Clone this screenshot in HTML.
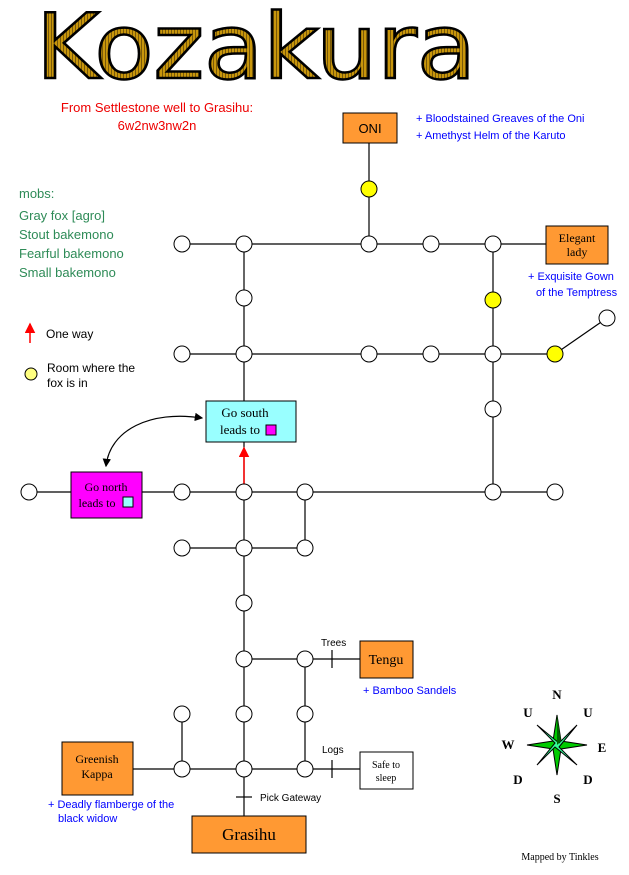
<!DOCTYPE html>
<html><head><style>body{margin:0;background:#fff}svg{display:block}</style></head><body>
<svg width="629" height="875" viewBox="0 0 629 875" xmlns="http://www.w3.org/2000/svg" font-family="Liberation Sans, sans-serif">
<defs><pattern id="st" width="3" height="3" patternUnits="userSpaceOnUse"><rect width="3" height="3" fill="#c8960c"/><rect width="1" height="3" fill="#7a5a08"/></pattern>
<marker id="ab" markerWidth="7" markerHeight="7" refX="6" refY="3.5" orient="auto-start-reverse"><path d="M0,0 L7,3.5 L0,7 z" fill="#000"/></marker>
<marker id="ar" markerWidth="7" markerHeight="7" refX="6" refY="3.5" orient="auto"><path d="M0,0 L7,3.5 L0,7 z" fill="#f00"/></marker></defs>
<text x="256" y="78" text-anchor="middle" font-size="90" font-family="DejaVu Sans, sans-serif" textLength="440" lengthAdjust="spacingAndGlyphs" fill="url(#st)" stroke="#000" stroke-width="2.5">Kozakura</text>
<g font-size="13">
<text x="157" y="112" fill="#e00" text-anchor="middle">From Settlestone well to Grasihu:</text>
<text x="157" y="130" fill="#e00" text-anchor="middle">6w2nw3nw2n</text>
<text x="19" y="198" fill="#2e8b57">mobs:</text>
<text x="19" y="220" fill="#2e8b57">Gray fox [agro]</text>
<text x="19" y="239" fill="#2e8b57">Stout bakemono</text>
<text x="19" y="258" fill="#2e8b57">Fearful bakemono</text>
<text x="19" y="277" fill="#2e8b57">Small bakemono</text>
<text x="46" y="338" fill="#000" font-size="12">One way</text>
<text x="47" y="372" font-size="12">Room where the</text>
<text x="47" y="387" font-size="12">fox is in</text>
</g>
<line x1="30" y1="343" x2="30" y2="324" stroke="#f00" stroke-width="1.5" marker-end="url(#ar)"/>
<circle cx="31" cy="374" r="6" fill="#ffff80" stroke="#000"/>
<g font-size="11" fill="#00f">
<text x="416" y="122">+ Bloodstained Greaves of the Oni</text>
<text x="416" y="139">+ Amethyst Helm of the Karuto</text>
<text x="528" y="280">+ Exquisite Gown</text>
<text x="536" y="296">of the Temptress</text>
<text x="363" y="694">+ Bamboo Sandels</text>
<text x="48" y="808">+ Deadly flamberge of the</text>
<text x="58" y="822">black widow</text>
</g>
<g stroke="#000" stroke-width="1.2" fill="none">
<line x1="369" y1="143" x2="369" y2="244"/>
<line x1="182" y1="244" x2="546" y2="244"/>
<line x1="182" y1="354" x2="555" y2="354"/>
<line x1="555" y1="354" x2="607" y2="318"/>
<line x1="29" y1="492" x2="555" y2="492"/>
<line x1="182" y1="548" x2="305" y2="548"/>
<line x1="244" y1="244" x2="244" y2="816"/>
<line x1="493" y1="244" x2="493" y2="492"/>
<line x1="305" y1="492" x2="305" y2="548"/>
<line x1="305" y1="659" x2="305" y2="769"/>
<line x1="182" y1="714" x2="182" y2="769"/>
<line x1="244" y1="659" x2="360" y2="659"/>
<line x1="133" y1="769" x2="360" y2="769"/>
<line x1="332" y1="650" x2="332" y2="668"/>
<line x1="332" y1="760" x2="332" y2="778"/>
<line x1="236" y1="797" x2="252" y2="797"/>
<path d="M202,418 C150,410 110,430 106,466" marker-end="url(#ab)" marker-start="url(#ab)"/>
</g>
<line x1="244" y1="484" x2="244" y2="448" stroke="#f00" stroke-width="1.5" marker-end="url(#ar)"/>
<g stroke="#000" fill="#fff">
<circle cx="369" cy="189" r="8" fill="#ffff00"/>
<circle cx="493" cy="300" r="8" fill="#ffff00"/>
<circle cx="555" cy="354" r="8" fill="#ffff00"/>
<circle cx="607" cy="318" r="8"/>
<circle cx="182" cy="244" r="8"/><circle cx="244" cy="244" r="8"/><circle cx="369" cy="244" r="8"/><circle cx="431" cy="244" r="8"/><circle cx="493" cy="244" r="8"/>
<circle cx="244" cy="298" r="8"/>
<circle cx="182" cy="354" r="8"/><circle cx="244" cy="354" r="8"/><circle cx="369" cy="354" r="8"/><circle cx="431" cy="354" r="8"/><circle cx="493" cy="354" r="8"/>
<circle cx="493" cy="409" r="8"/>
<circle cx="29" cy="492" r="8"/><circle cx="182" cy="492" r="8"/><circle cx="244" cy="492" r="8"/><circle cx="305" cy="492" r="8"/><circle cx="493" cy="492" r="8"/><circle cx="555" cy="492" r="8"/>
<circle cx="182" cy="548" r="8"/><circle cx="244" cy="548" r="8"/><circle cx="305" cy="548" r="8"/>
<circle cx="244" cy="603" r="8"/>
<circle cx="244" cy="659" r="8"/><circle cx="305" cy="659" r="8"/>
<circle cx="182" cy="714" r="8"/><circle cx="244" cy="714" r="8"/><circle cx="305" cy="714" r="8"/>
<circle cx="182" cy="769" r="8"/><circle cx="244" cy="769" r="8"/><circle cx="305" cy="769" r="8"/>
<rect x="343" y="113" width="54" height="30" fill="#ff9933"/>
<rect x="546" y="226" width="62" height="38" fill="#ff9933"/>
<rect x="206" y="401" width="90" height="41" fill="#99ffff"/>
<rect x="71" y="472" width="71" height="46" fill="#ff00ff"/>
<rect x="360" y="641" width="53" height="37" fill="#ff9933"/>
<rect x="62" y="742" width="71" height="53" fill="#ff9933"/>
<rect x="360" y="752" width="53" height="37" fill="#fff"/>
<rect x="192" y="816" width="114" height="37" fill="#ff9933"/>
<rect x="266" y="425" width="10" height="10" fill="#ff00ff"/>
<rect x="123" y="497" width="10" height="10" fill="#99ffff"/>
</g>
<g font-family="Liberation Serif, serif" font-size="12" text-anchor="middle">
<text x="370" y="133" font-family="Liberation Sans, sans-serif" font-size="13">ONI</text>
<text x="577" y="242">Elegant</text><text x="577" y="256">lady</text>
<text x="245" y="417" font-size="13">Go south</text><text x="240" y="434" font-size="13">leads to</text>
<text x="106" y="491">Go north</text><text x="97" y="507">leads to</text>
<text x="386" y="664" font-size="14">Tengu</text>
<text x="97" y="763">Greenish</text><text x="97" y="778">Kappa</text>
<text x="386" y="768" font-size="10">Safe to</text><text x="386" y="781" font-size="10">sleep</text>
<text x="249" y="840" font-size="17">Grasihu</text>
<text x="560" y="860" font-size="10">Mapped by Tinkles</text>
</g>
<g font-family="Liberation Sans, sans-serif" font-size="10">
<text x="321" y="646">Trees</text><text x="322" y="753">Logs</text><text x="260" y="801">Pick Gateway</text>
</g>
<g transform="translate(557,745)">
<polygon points="0,-30 4,-4 30,0 4,4 0,30 -4,4 -30,0 -4,-4" fill="#00cc00" stroke="#000"/>
<polygon points="-20,-20 2,-2 20,-20 2,2 20,20 -2,2 -20,20 -2,-2" fill="#33ff99" stroke="#000"/>
<polygon points="0,-30 4,-4 0,0" fill="#006600"/>
</g>
<g font-family="Liberation Serif, serif" font-size="13" font-weight="bold" text-anchor="middle">
<text x="557" y="699">N</text><text x="528" y="717">U</text><text x="588" y="717">U</text>
<text x="508" y="749">W</text><text x="602" y="752">E</text><text x="518" y="784">D</text><text x="588" y="784">D</text><text x="557" y="803">S</text>
</g>
</svg>
</body></html>
